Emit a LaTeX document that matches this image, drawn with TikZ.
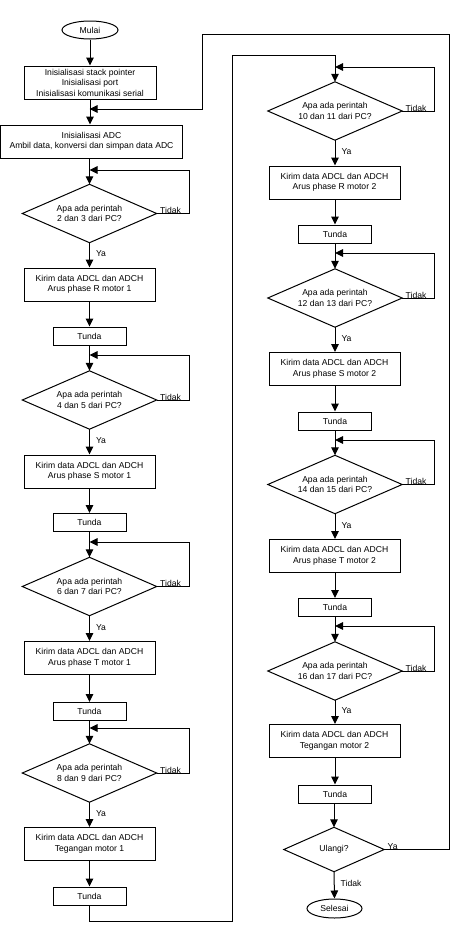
\documentclass[tikz,border=0pt]{standalone}
\usepackage{fontspec}
\setmainfont{Liberation Sans}
\usetikzlibrary{shapes.geometric,arrows.meta}
\begin{document}
\begin{tikzpicture}[x=1pt,y=-1pt,
  every node/.style={font=\fontsize{8.6}{10.5}\selectfont, inner sep=0pt, align=center},
  proc/.style={draw, line width=1pt, minimum width=131pt, minimum height=33pt},
  delay/.style={draw, line width=1pt, minimum width=73pt, minimum height=18pt},
  dec/.style={minimum width=134pt, minimum height=58pt},
  term/.style={draw, ellipse, line width=1pt, minimum width=56pt, minimum height=18pt},
  lbl/.style={font=\fontsize{8.6}{10}\selectfont},
  flow/.style={line width=1pt},
  diam/.style={line width=1pt, line join=miter},
  arr/.style={flow, -{Triangle[length=8pt,width=7.5pt]}}
]
\useasboundingbox (0,0) rectangle (452,926);
% ---------- left column ----------
\node[term] (mulai) at (90,30) {Mulai};
\node[proc, minimum width=132pt] (init) at (90,82.5) {Inisialisasi stack pointer\\Inisialisasi port\\Inisialisasi komunikasi serial};
\node[proc, minimum width=182pt] (adc) at (91.5,141.5) {Inisialisasi ADC\\Ambil data, konversi dan simpan data ADC};
\coordinate (j1) at (89.5,109);
\node[dec] (d1) at (89.5,213.5) {Apa ada perintah\\2 dan 3 dari PC?};
\coordinate (j2) at (89.5,170);
\node[proc] (b1) at (89.5,284.5) {Kirim data ADCL dan ADCH\\Arus phase R motor 1};
\node[delay] (t1) at (89.5,336) {Tunda};
\coordinate (j3) at (89.5,355);
\node[dec] (d2) at (89.5,400) {Apa ada perintah\\4 dan 5 dari PC?};
\node[proc] (b2) at (89.5,471.5) {Kirim data ADCL dan ADCH\\Arus phase S motor 1};
\node[delay] (t2) at (89.5,522.5) {Tunda};
\coordinate (j4) at (89.5,542);
\node[dec] (d3) at (89.5,586.5) {Apa ada perintah\\6 dan 7 dari PC?};
\node[proc] (b3) at (89.5,658) {Kirim data ADCL dan ADCH\\Arus phase T motor 1};
\node[delay] (t3) at (89.5,711.5) {Tunda};
\coordinate (j5) at (89.5,728);
\node[dec] (d4) at (89.5,773) {Apa ada perintah\\8 dan 9 dari PC?};
\node[proc] (b4) at (89.5,844) {Kirim data ADCL dan ADCH\\Tegangan motor 1};
\node[delay] (t4) at (89.5,896) {Tunda};
\coordinate (c1) at (89.5,921);
\coordinate (c2) at (232,921);
\coordinate (c3) at (232,55);
% ---------- right column ----------
\coordinate (j6) at (335,67);
\node[dec] (d5) at (335,111) {Apa ada perintah\\10 dan 11 dari PC?};
\node[proc] (b5) at (334.5,182.5) {Kirim data ADCL dan ADCH\\Arus phase R motor 2};
\node[delay] (t5) at (335,234) {Tunda};
\coordinate (j7) at (335,253);
\node[dec] (d6) at (335,298) {Apa ada perintah\\12 dan 13 dari PC?};
\node[proc] (b6) at (334.5,369) {Kirim data ADCL dan ADCH\\Arus phase S motor 2};
\node[delay] (t6) at (335,421) {Tunda};
\coordinate (j8) at (335,440);
\node[dec] (d7) at (335,484.5) {Apa ada perintah\\14 dan 15 dari PC?};
\node[proc] (b7) at (334.5,556) {Kirim data ADCL dan ADCH\\Arus phase T motor 2};
\node[delay] (t7) at (335,607.5) {Tunda};
\coordinate (j9) at (335,626);
\node[dec] (d8) at (335,671) {Apa ada perintah\\16 dan 17 dari PC?};
\node[proc] (b8) at (334.5,741) {Kirim data ADCL dan ADCH\\Tegangan motor 2};
\node[delay] (t8) at (335,794) {Tunda};
\node[dec, minimum width=100pt, minimum height=44pt] (ul) at (334,849.5) {Ulangi?};
\node[term, minimum width=55pt, minimum height=19pt] (sel) at (334.5,908.5) {Selesai};
\coordinate (r1) at (449,849.5);
\coordinate (r2) at (449,34);
\coordinate (r3) at (202,34);
% ---------- diamond outlines ----------
\foreach \d in {d1,d2,d3,d4,d5,d6,d7,d8,ul}
  \draw[diam] (\d.north) -- (\d.east) -- (\d.south) -- (\d.west) -- cycle;
% ---------- main flow ----------
\draw[arr] (mulai.south) -- (mulai.south |- init.north);
\draw[arr] (init.south) -- (init.south |- adc.north);
\draw[arr] (adc.south -| d1.north) -- (d1.north);
\draw[arr] (d1.south) -- (b1.north) node[lbl, pos=0.45, anchor=west, xshift=6pt] {Ya};
\draw[arr] (b1) -- (t1);
\draw[arr] (t1) -- (d2.north);
\draw[arr] (d2.south) -- (b2.north) node[lbl, pos=0.45, anchor=west, xshift=6pt] {Ya};
\draw[arr] (b2) -- (t2);
\draw[arr] (t2) -- (d3.north);
\draw[arr] (d3.south) -- (b3.north) node[lbl, pos=0.45, anchor=west, xshift=6pt] {Ya};
\draw[arr] (b3) -- (t3);
\draw[arr] (t3) -- (d4.north);
\draw[arr] (d4.south) -- (b4.north) node[lbl, pos=0.45, anchor=west, xshift=6pt] {Ya};
\draw[arr] (b4) -- (t4);
\draw[arr] (t4.south) -- (c1) -- (c2) -- (c3) -| (d5.north);
\draw[arr] (d5.south) -- (b5.north -| d5.south) node[lbl, pos=0.45, anchor=west, xshift=6pt] {Ya};
\draw[arr] (b5.south -| t5.north) -- (t5.north);
\draw[arr] (t5) -- (d6.north);
\draw[arr] (d6.south) -- (b6.north -| d6.south) node[lbl, pos=0.45, anchor=west, xshift=6pt] {Ya};
\draw[arr] (b6.south -| t6.north) -- (t6.north);
\draw[arr] (t6) -- (d7.north);
\draw[arr] (d7.south) -- (b7.north -| d7.south) node[lbl, pos=0.45, anchor=west, xshift=6pt] {Ya};
\draw[arr] (b7.south -| t7.north) -- (t7.north);
\draw[arr] (t7) -- (d8.north);
\draw[arr] (d8.south) -- (b8.north -| d8.south) node[lbl, pos=0.45, anchor=west, xshift=6pt] {Ya};
\draw[arr] (b8.south -| t8.north) -- (t8.north);
\draw[arr] (t8.south -| ul.north) -- (ul.north);
\draw[arr] (ul.south) -- (sel.north) node[lbl, pos=0.45, anchor=west, xshift=6pt] {Tidak};
% ---------- loops (Tidak) ----------
\draw[arr] (d1.east) node[lbl, anchor=south west, xshift=3pt, yshift=-1pt] {Tidak} -- (189,213.5) |- (j2);
\draw[arr] (d2.east) node[lbl, anchor=south west, xshift=3pt, yshift=-1pt] {Tidak} -- (189,400) |- (j3);
\draw[arr] (d3.east) node[lbl, anchor=south west, xshift=3pt, yshift=-1pt] {Tidak} -- (189,586.5) |- (j4);
\draw[arr] (d4.east) node[lbl, anchor=south west, xshift=3pt, yshift=-1pt] {Tidak} -- (189,773) |- (j5);
\draw[arr] (d5.east) node[lbl, anchor=south west, xshift=3pt, yshift=-1pt] {Tidak} -- (434,111) |- (j6);
\draw[arr] (d6.east) node[lbl, anchor=south west, xshift=3pt, yshift=-1pt] {Tidak} -- (434,298) |- (j7);
\draw[arr] (d7.east) node[lbl, anchor=south west, xshift=3pt, yshift=-1pt] {Tidak} -- (434,484.5) |- (j8);
\draw[arr] (d8.east) node[lbl, anchor=south west, xshift=3pt, yshift=-1pt] {Tidak} -- (434,671) |- (j9);
% ---------- repeat (Ya) ----------
\draw[arr] (ul.east) node[lbl, anchor=south west, xshift=3pt, yshift=-1pt] {Ya} -- (r1) -- (r2) -- (r3) |- (j1);
\end{tikzpicture}
\end{document}
